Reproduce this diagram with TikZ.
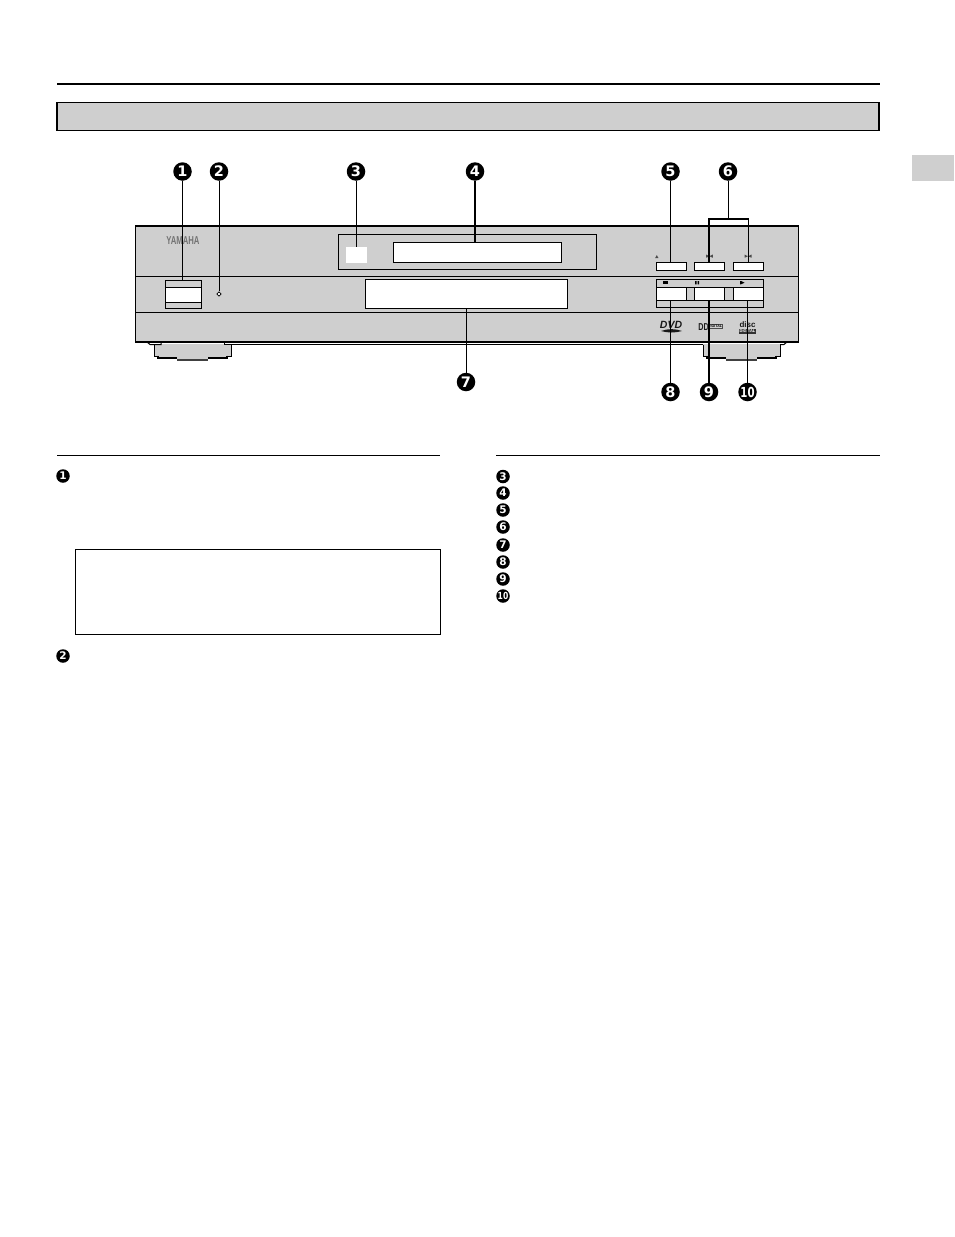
\documentclass[tikz,border=0pt]{standalone}
\usepackage{fontspec}
\usepackage{graphicx}
\usetikzlibrary{shapes.geometric,calc}
\setmainfont{Liberation Sans}
\newfontfamily\markfont{DejaVu Sans}
\newcommand{\bxnode}[6][]{\node[plainbox,#1,minimum width={#5-#3},minimum height={#6-#4}] (#2) at ({(#3+#5)/2},{(#4+#6)/2}) {};}
\newcommand{\footshape}[1]{\begin{scope}[shift={(#1,0)}]
\fill[panelgray] (154,344) rectangle (231,356);
\fill[panelgray] (158,356) rectangle (227,358);
\fill[panelgray] (177,358) rectangle (208,359);
\draw[line width=1pt] (154,344.5) -- (154,356) -- (158,356);
\draw[line width=1pt] (231,344.5) -- (231,356) -- (227,356);
\draw[line width=1.6pt] (158,355.5) -- (158,358) -- (177,358);
\draw[line width=1.6pt] (227,355.5) -- (227,358) -- (208,358);
\fill[black!75] (177,358.5) rectangle (208,360.7);
\end{scope}}
\definecolor{panelgray}{HTML}{CFCFCF}
\tikzset{
  plainbox/.style={draw=black,line width=1pt,inner sep=0pt,outer sep=0pt,rectangle},
  grayfill/.style={fill=panelgray},
  whitefill/.style={fill=white},
  rule/.style={draw=black,line width=1pt},
  lead/.style={draw=black,line width=1pt},
  leadthick/.style={draw=black,line width=2pt},
  marker/.style={circle,fill=black,inner sep=0pt,outer sep=0pt,minimum size=18.5pt,text=white,font=\fontsize{14.5}{14.5}\selectfont\markfont\bfseries},
  smallmarker/.style={circle,fill=black,inner sep=0pt,outer sep=0pt,minimum size=13.5pt,text=white,font=\fontsize{10.5}{10.5}\selectfont\markfont\bfseries},
  icon/.style={fill=black,draw=none},
  logo/.style={inner sep=0pt,outer sep=0pt,text=black!90}
}
\begin{document}
\begin{tikzpicture}[x=1pt,y=-1pt]
\useasboundingbox (0,0) rectangle (954,1237);
% page furniture
\coordinate (topl) at (57,84);
\coordinate (topr) at (880,84);
\draw[rule,line width=2pt] (topl) -- (topr);
\bxnode[grayfill,line width=1.2pt]{header}{57}{102.5}{879}{130.5}
\draw[line width=2pt] (header.north east) ++(0,-0.5) -- ++(0,29);
\fill[panelgray] (912,155) rectangle (954,181);
% feet
\footshape{0}
\footshape{549}
% body
\draw[line width=1pt] (147,342) -- (150,344.5) -- (161,344.5) -- (161,342);
\draw[line width=1pt] (224,342) -- (224,344.5) -- (703,344.5);
\draw[line width=1pt] (780,344.5) -- (784,344.5) -- (787,342);
\bxnode[grayfill,line width=1.3pt]{body}{135.5}{226}{798.5}{342}
\draw[rule] (body.west |- 0,276) -- (body.east |- 0,276);
\draw[rule] (body.west |- 0,312) -- (body.east |- 0,312);
% panels
\bxnode{dispanel}{338}{234}{596}{269}
\bxnode[whitefill]{display}{393}{242}{561}{262}
\node[fill=white,inner sep=0pt,outer sep=0pt,minimum width=21pt,minimum height=16pt] (square) at (356.5,255) {};
\bxnode{power}{165}{280}{201}{308}
\bxnode[whitefill]{powerkey}{165}{287}{201}{302}
\bxnode[whitefill]{tray}{365}{279}{567}{308}
\node[draw=black,line width=0.7pt,fill=white,diamond,inner sep=0pt,minimum size=4.5pt,shape aspect=1] (led) at (219,294) {};
\node[logo,text=black!55,font=\fontsize{11.5}{11.5}\selectfont\bfseries] (yamaha) at (183,240.5) {\scalebox{0.67}[1]{YAMAHA}};
% buttons
\bxnode[whitefill]{eject}{656}{262}{686}{270}
\bxnode[whitefill]{prev}{694}{262}{724}{270}
\bxnode[whitefill]{next}{733}{262}{763}{270}
\bxnode{group}{656}{279}{763}{307}
\bxnode[whitefill]{stop}{656}{287}{686}{300}
\bxnode[whitefill]{pause}{694}{287}{724}{300}
\bxnode[whitefill]{play}{733}{287}{763}{300}
\draw[rule] (group.west |- 0,287) -- (group.east |- 0,287);
\draw[rule] (group.west |- 0,300) -- (group.east |- 0,300);
% icons
\fill[icon,black!70] (655.2,258) -- (656.8,255) -- (658.4,258) -- cycle;
\fill[icon,black!70] (706,254.7) rectangle (706.7,257.7) (710,256.2) -- (706.7,254.9) -- (706.7,257.5) -- cycle (712.8,254.7) rectangle (712.1,257.7) (709.5,256.2) -- (712.1,254.9) -- (712.1,257.5) -- cycle;
\fill[icon,black!70] (744.5,254.7) rectangle (745.2,257.7) (748,256.2) -- (745.2,254.9) -- (745.2,257.5) -- cycle (751.5,254.7) rectangle (750.8,257.7) (748,256.2) -- (750.8,254.9) -- (750.8,257.5) -- cycle;
\fill[icon] (662.7,281) rectangle (668,284.3);
\fill[icon] (695,281) rectangle (696.5,284.3) (697.5,281) rectangle (699,284.3);
\fill[icon] (740,281) -- (741,281) -- (744.5,282.7) -- (741,284.3) -- (740,284.3) -- cycle;
% logos
\node[logo,font=\fontsize{10.5}{10.5}\selectfont\bfseries\itshape] (dvd) at (671,325) {DVD};
\fill[black!90] (661,331) .. controls (668,328.5) and (675,328.5) .. (682,331) .. controls (675,333) and (668,333) .. (661,331) -- cycle;
\node[logo,font=\fontsize{10}{10}\selectfont\bfseries] (dolby) at (703.5,327) {\scalebox{0.72}[1]{DD}};
\node[draw=black!70,line width=0.5pt,inner sep=0.6pt,font=\fontsize{3.6}{3.6}\selectfont\bfseries] (digital) at (715,326.5) {DIGITAL};
\node[logo,font=\fontsize{8}{8}\selectfont\bfseries] (cd) at (747.5,324.5) {disc};
\node[fill=black!80,text=white,inner sep=0.6pt,font=\fontsize{4}{4}\selectfont\bfseries] (cdd) at (747.5,331.5) {DIGITAL};
% markers
\node[marker] (m1) at (182.5,171.5) {1};
\node[marker] (m2) at (219,171.5) {2};
\node[marker] (m3) at (356,171.5) {3};
\node[marker] (m4) at (475,171.5) {4};
\node[marker] (m5) at (670.5,171.5) {5};
\node[marker] (m6) at (728,171.5) {6};
\node[marker] (m7) at (466,382) {7};
\node[marker] (m8) at (670.5,392) {8};
\node[marker] (m9) at (709,392) {9};
\node[marker,font=\fontsize{12}{12}\selectfont\markfont\bfseries] (m10) at (747.5,392) {\scalebox{0.85}[1.15]{10}};
% leaders
\draw[lead] (m1) -- (m1 |- power.north);
\draw[lead] (m2) -- (m2 |- led.north);
\draw[lead] (m3) -- (m3 |- square.north);
\draw[leadthick] (m4) -- (m4 |- display.north);
\draw[lead] (m5) -- (m5 |- eject.north);
\coordinate (brk) at (728,219);
\draw[lead] (m6) -- (brk);
\draw[leadthick] (brk -| prev) -- (prev.north);
\draw[lead] (brk -| next) -- (next.north);
\draw[leadthick] ($(brk -| prev)+(-1,0)$) -- ($(brk -| next)+(0.5,0)$);
\draw[lead] (m7) -- (m7 |- tray.south);
\draw[lead] (m8) -- (m8 |- stop.south);
\draw[leadthick] (m9) -- (m9 |- pause.south);
\draw[lead] (m10) -- (m10 |- play.south);
% lower rules and box
\coordinate (rl1) at (57,455.5);
\coordinate (rl2) at (440,455.5);
\coordinate (rr1) at (496,455.5);
\coordinate (rr2) at (880,455.5);
\draw[rule] (rl1) -- (rl2);
\draw[rule] (rr1) -- (rr2);
\bxnode[line width=1pt]{note}{75.5}{549.5}{440.5}{634.5}
% list markers
\node[smallmarker] (s1) at (63,476) {1};
\node[smallmarker] (s2) at (63,656) {2};
\node[smallmarker] (s3) at (503,476.5) {3};
\node[smallmarker] (s4) at (503,493) {4};
\node[smallmarker] (s5) at (503,510) {5};
\node[smallmarker] (s6) at (503,527) {6};
\node[smallmarker] (s7) at (503,545) {7};
\node[smallmarker] (s8) at (503,562) {8};
\node[smallmarker] (s9) at (503,579) {9};
\node[smallmarker,font=\fontsize{8.5}{8.5}\selectfont\markfont\bfseries] (s10) at (503,596) {\scalebox{0.9}[1.15]{10}};
\end{tikzpicture}
\end{document}
